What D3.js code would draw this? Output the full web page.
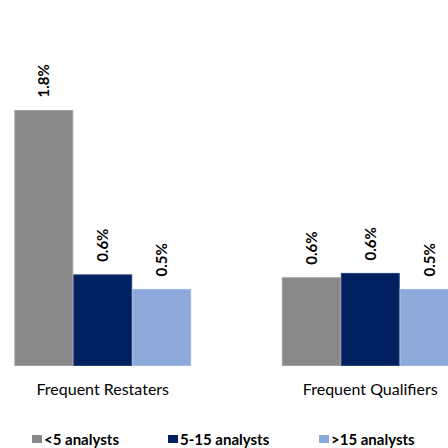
<!DOCTYPE html>
<html>
<head>
<meta charset="utf-8">
<script src="https://cdn.jsdelivr.net/npm/d3@7"></script>
<style>
  html, body { margin: 0; padding: 0; background: #fff; }
  svg { display: block; }
</style>
</head>
<body>
<svg id="chart" width="448" height="448"></svg>
<script>
const categories = ["Frequent Restaters", "Frequent Qualifiers"];
const seriesNames = ["<5 analysts", "5-15 analysts", ">15 analysts"];
const lessThan5 = [1.76, 0.61];
const from5to15 = [0.63, 0.64];
const moreThan15 = [0.53, 0.53];
const seriesColors = ["#898989", "#002060", "#8eaadb"];
const seriesStroke = ["#a0a0a0", "#2a4478", "#9fb7e0"];

const seriesValues = [lessThan5, from5to15, moreThan15];
const data = categories.map((c, i) => ({
  category: c,
  values: seriesNames.map((s, j) => ({ series: s, value: seriesValues[j][i], idx: j }))
}));

const svg = d3.select("#chart");
const fontFam = "Lato, 'Open Sans', sans-serif";

const x0 = d3.scaleBand()
  .domain(categories)
  .range([-31, 504])
  .paddingInner(0.339)
  .paddingOuter(0.1695);

const x1 = d3.scaleBand()
  .domain(seriesNames)
  .range([0, x0.bandwidth()])
  .padding(0);

const y = d3.scaleLinear()
  .domain([0, 1.76])
  .range([366, 110]);

const color = d3.scaleOrdinal().domain(seriesNames).range(seriesColors);
const strokeC = d3.scaleOrdinal().domain(seriesNames).range(seriesStroke);
const fmt = d3.format(".1f");

const groups = svg.selectAll("g.grp")
  .data(data)
  .join("g")
  .attr("class", "grp")
  .attr("transform", d => `translate(${x0(d.category)},0)`);

groups.selectAll("rect")
  .data(d => d.values)
  .join("rect")
  .attr("x", d => x1(d.series) + 0.5)
  .attr("y", d => y(d.value) + 0.5)
  .attr("width", x1.bandwidth() - 1)
  .attr("height", d => y(0) - y(d.value) - 1)
  .attr("fill", d => color(d.series))
  .attr("stroke", d => strokeC(d.series))
  .attr("stroke-width", 1);

groups.selectAll("text.val")
  .data(d => d.values)
  .join("text")
  .attr("class", "val")
  .attr("transform", d => `translate(${x1(d.series) + x1.bandwidth() / 2},${y(d.value) - 12.5}) rotate(-90)`)
  .attr("dy", "0.36em")
  .attr("text-anchor", "start")
  .attr("font-family", fontFam)
  .attr("font-weight", "bold")
  .attr("font-size", "15px")
  .attr("fill", "#000")
  .text(d => fmt(d.value) + "%");

// category axis labels
const xAxis = d3.axisBottom(x0).tickSize(0).tickPadding(0);
const axisG = svg.append("g")
  .attr("transform", "translate(0,384)")
  .call(xAxis);
axisG.select(".domain").remove();
axisG.selectAll("text")
  .attr("dy", "0.71em")
  .attr("font-family", fontFam)
  .attr("font-size", "16px")
  .attr("fill", "#000");

// legend
const legendX = [32, 168, 319];
const legend = svg.selectAll("g.leg")
  .data(seriesNames)
  .join("g")
  .attr("class", "leg")
  .attr("transform", (d, i) => `translate(${legendX[i]},435)`);
legend.append("rect")
  .attr("width", 10)
  .attr("height", 8)
  .attr("fill", d => color(d));
legend.append("text")
  .attr("x", 12)
  .attr("y", 9.5)
  .attr("font-family", fontFam)
  .attr("font-weight", "bold")
  .attr("font-size", "15px")
  .attr("fill", "#000")
  .text(d => d);
</script>
</body>
</html>
